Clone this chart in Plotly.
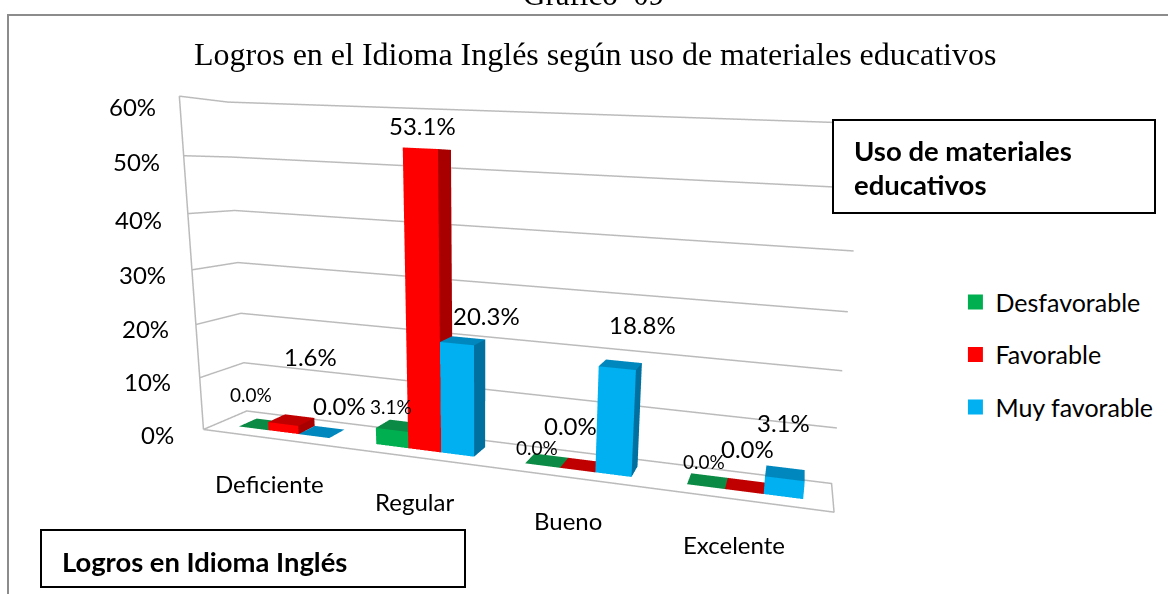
import plotly.graph_objects as go

categories = ["Deficiente", "Regular", "Bueno", "Excelente"]
desfavorable = [0.0, 3.1, 0.0, 0.0]
favorable = [1.6, 53.1, 0.0, 0.0]
muy_favorable = [0.0, 20.3, 18.8, 3.1]
z_ticks = [0, 10, 20, 30, 40, 50, 60]

W, H = 1168, 594
series = [("Desfavorable", desfavorable, "#00B050", "#0A8A44", "#087A3C"),
          ("Favorable", favorable, "#FF0000", "#C00000", "#A80000"),
          ("Muy favorable", muy_favorable, "#00B0F0", "#0088BE", "#0070A0")]

# label nudges in pixels (right, down), per series then per category
label_nudge = [[(-11, -30), (-7, -19), (-10, -13), (-4, -20)],
               [(19, -64), (-4, -23), (-11, -40), (2, -38)],
               [(18, -27), (24, -25), (22, -40), (-2, -51)]]
tick_nudge = [(-27, 5), (-27, 4), (-25, 4), (-24, 5), (-24, 6), (-22, 6), (-21, 10)]
cat_nudge = [(-2, 45), (-1, 44), (-4, 43), (-9, 44)]

BAR = 2 / 9
Y0, Y1 = 0.3, 0.72
fig = go.Figure()
for s_i, (name, vals, cf, ct, cs) in enumerate(series):
    X, Y, Z, I, J, K, C = [], [], [], [], [], [], []
    for c_i, v in enumerate(vals):
        x0 = c_i + 0.5 + (s_i - 1.5) * BAR
        x1 = x0 + BAR
        b = len(X)
        X += [x0, x1, x1, x0, x0, x1, x1, x0]
        Y += [Y0, Y0, Y1, Y1, Y0, Y0, Y1, Y1]
        Z += [0, 0, 0, 0, v, v, v, v]
        faces = [((0, 1, 5), cf), ((0, 5, 4), cf), ((4, 5, 6), ct), ((4, 6, 7), ct), ((1, 2, 6), cs), ((1, 6, 5), cs)]
        for (a, bb, cc), col in faces:
            I.append(b + a); J.append(b + bb); K.append(b + cc); C.append(col)
    fig.add_trace(go.Mesh3d(x=X, y=Y, z=Z, i=I, j=J, k=K, facecolor=C, flatshading=True, hoverinfo="skip", showlegend=False,
                            lighting=dict(ambient=1, diffuse=0, specular=0, fresnel=0, roughness=1)))
    fig.add_trace(go.Scatter3d(x=[None], y=[None], z=[None], mode="markers", name=name, legendgroup=name,
                               marker=dict(symbol="square", size=15, color=cf)))

line = dict(color="#BBBBBB", width=3)
fig.add_trace(go.Scatter3d(x=[0, 4, 4, 0, 0], y=[0, 0, 1, 1, 0], z=[0, 0, 0, 0, 0], mode="lines", line=line, showlegend=False, hoverinfo="skip"))
fig.add_trace(go.Scatter3d(x=[0, 0], y=[0, 0], z=[0, 60], mode="lines", line=line, showlegend=False, hoverinfo="skip"))

anns = []
for s_i, (name, vals, *_) in enumerate(series):
    for c_i, v in enumerate(vals):
        dx, dy = label_nudge[s_i][c_i]
        anns.append(dict(x=c_i + 0.5 + (s_i - 1) * BAR, y=0.5, z=v, text="%.1f%%" % v, showarrow=False,
                         xshift=dx, yshift=-dy, font=dict(size=19 if s_i == 0 else 24, color="black")))
for t, (dx, dy) in zip(z_ticks, tick_nudge):
    anns.append(dict(x=0, y=0, z=t, text="%d%%" % t, showarrow=False, xanchor="right", xshift=dx, yshift=-dy,
                     font=dict(size=24, color="black")))
for i, c in enumerate(categories):
    dx, dy = cat_nudge[i]
    anns.append(dict(x=i + 0.5, y=0, z=0, text=c, showarrow=False, xshift=dx, yshift=-dy, font=dict(size=24, color="black")))


def box(x0, y0, x1, y1):
    return dict(type="rect", xref="paper", yref="paper", x0=x0 / W, x1=x1 / W, y0=1 - y0 / H, y1=1 - y1 / H,
                fillcolor="white", line=dict(color="black", width=2))


def txt(x, y, t, size, fam="Lato", bold=False, anchor="left"):
    return dict(x=x / W, y=1 - y / H, xref="paper", yref="paper", xanchor=anchor, yanchor="middle", showarrow=False,
                text=("<b>%s</b>" % t if bold else t), font=dict(family=fam, size=size, color="black"))


fig.update_layout(
    width=W, height=H, margin=dict(l=0, r=0, t=0, b=0), paper_bgcolor="white", font=dict(family="Lato", color="black"),
    scene=dict(domain=dict(x=[0.13014, 1], y=[0, 1]), dragmode="orbit",
               camera=dict(eye=dict(x=1.1578, y=-2.7096, z=0.5260), center=dict(x=0.4543, y=0.9876, z=-0.1614),
                           up=dict(x=-0.0466, y=0, z=1), projection=dict(type="perspective")),
               aspectmode="manual", aspectratio=dict(x=2.7320, y=0.2556, z=1.4321), annotations=anns,
               xaxis=dict(range=[0, 4], showticklabels=False, ticks="", showgrid=False, zeroline=False, showbackground=False, title="", showspikes=False),
               yaxis=dict(range=[0, 1], showticklabels=False, ticks="", showgrid=False, zeroline=False, showbackground=False, title="", showspikes=False),
               zaxis=dict(range=[0, 60], tickvals=z_ticks, showticklabels=False, ticks="", showgrid=True, gridcolor="#BBBBBB", gridwidth=3,
                          zeroline=False, showbackground=False, title="", showspikes=False)),
    legend=dict(x=0.818, y=0.53, xanchor="left", yanchor="top", font=dict(size=25), tracegroupgap=17),
    shapes=[dict(type="path", xref="paper", yref="paper", path="M %f 0 L %f %f L 1 %f" % (8 / W, 8 / W, 1 - 15 / H, 1 - 15 / H),
                 line=dict(color="#8C8C8C", width=2)),
            box(833, 120, 1155, 213), box(41, 530, 465, 587)],
    annotations=[txt(852, 150, "Uso de materiales", 27.5, bold=True), txt(852, 185, "educativos", 27.5, bold=True),
                 txt(60, 561, "Logros en Idioma Inglés", 27.4, bold=True),
                 txt(595, 54, "Logros en el Idioma Inglés según uso de materiales educativos", 32, fam="Liberation Serif", anchor="center"),
                 txt(593, -5, "Gráfico  09", 31, fam="Liberation Serif", anchor="center")])
fig.write_html("out.html", config=dict(displayModeBar=False), post_script="document.body.style.margin='0';")
